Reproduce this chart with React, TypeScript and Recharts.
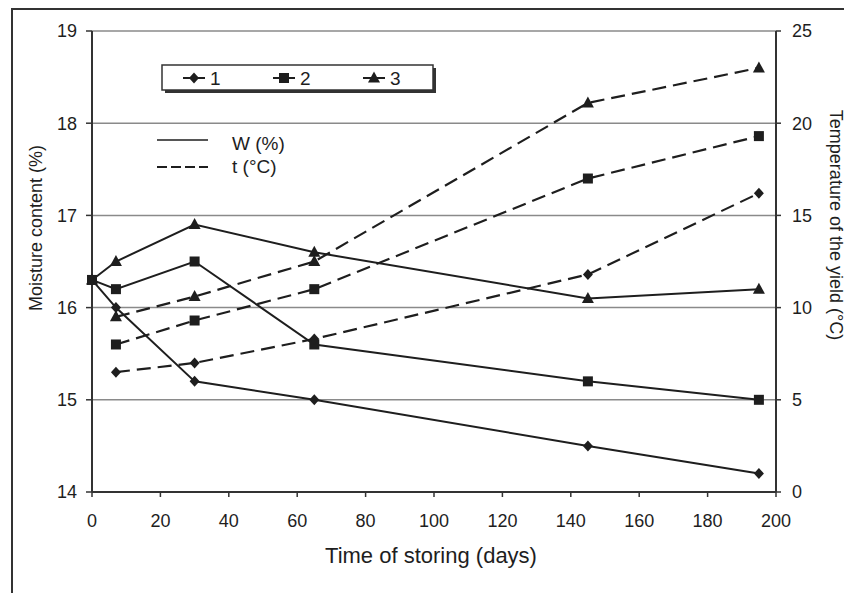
import React from 'react';
import { LineChart, Line, XAxis, YAxis, CartesianGrid, Label } from 'recharts';

const days = [0, 7, 30, 65, 145, 195];
const moisture1 = [16.3, 16.0, 15.2, 15.0, 14.5, 14.2];
const moisture2 = [16.3, 16.2, 16.5, 15.6, 15.2, 15.0];
const moisture3 = [16.3, 16.5, 16.9, 16.6, 16.1, 16.2];
const temp1 = [null, 6.5, 7.0, 8.3, 11.8, 16.2];
const temp2 = [null, 8.0, 9.3, 11.0, 17.0, 19.3];
const temp3 = [null, 9.5, 10.6, 12.5, 21.1, 23.0];

const xTicks = [0, 20, 40, 60, 80, 100, 120, 140, 160, 180, 200];
const wTicks = [14, 15, 16, 17, 18, 19];
const tTicks = [0, 5, 10, 15, 20, 25];
const seriesLabels = ['1', '2', '3'];
const styleLabels = ['W (%)', 't (°C)'];

const xTitle = 'Time of storing (days)';
const wTitle = 'Moisture content (%)';
const tTitle = 'Temperature of the yield (°C)';

const data = days.map((d, i) => ({
  day: d,
  w1: moisture1[i],
  w2: moisture2[i],
  w3: moisture3[i],
  t1: temp1[i],
  t2: temp2[i],
  t3: temp3[i],
}));

const FONT = '"Liberation Sans", Arial, sans-serif';
const INK = '#1e1e1e';

type Shape = 'diamond' | 'square' | 'triangle';
const shapes: Shape[] = ['diamond', 'square', 'triangle'];

function marker(shape: Shape, cx: number, cy: number, key?: string) {
  if (shape === 'diamond') {
    return (
      <path key={key} d={`M${cx},${cy - 5.5}L${cx + 5},${cy}L${cx},${cy + 5.5}L${cx - 5},${cy}Z`} fill={INK} />
    );
  }
  if (shape === 'square') {
    return <rect key={key} x={cx - 5} y={cy - 5} width={10} height={10} fill={INK} />;
  }
  return (
    <path key={key} d={`M${cx},${cy - 6.5}L${cx + 6},${cy + 4.5}L${cx - 6},${cy + 4.5}Z`} fill={INK} />
  );
}

const makeDot = (shape: Shape, prefix: string) => (props: any) => {
  const { cx, cy, index } = props;
  const k = `${prefix}-${index}`;
  if (cx == null || cy == null || Number.isNaN(cx) || Number.isNaN(cy) || props.value == null) {
    return <g key={k} />;
  }
  return marker(shape, cx, cy, k);
};

const W = 844;
const H = 585;

export default function App() {
  return (
    <div style={{ position: 'relative', width: W, height: H, fontFamily: FONT, background: '#fff' }}>
      <LineChart
        width={W}
        height={H}
        data={data}
        margin={{ top: 23, right: 0, bottom: 0, left: 0 }}
        style={{ fontFamily: FONT }}
      >
        <CartesianGrid yAxisId="w" vertical={false} stroke="#8a8a8a" strokeWidth={1.5} />
        <XAxis
          dataKey="day"
          type="number"
          domain={[0, 200]}
          ticks={xTicks}
          height={101}
          tickSize={5}
          tickMargin={17}
          axisLine={{ stroke: '#333', strokeWidth: 2 }}
          tickLine={{ stroke: '#333', strokeWidth: 1.5 }}
          tick={{ fill: INK, fontSize: 18, fontFamily: FONT }}
          interval={0}
        >
          <Label
            content={(p: any) => {
              const vb = p.viewBox || { x: 84, width: 684, y: 484 };
              return (
                <text
                  x={vb.x + vb.width / 2 - 3}
                  y={vb.y + 71}
                  textAnchor="middle"
                  fontSize={22}
                  fill={INK}
                  fontFamily={FONT}
                >
                  {xTitle}
                </text>
              );
            }}
          />
        </XAxis>
        <YAxis
          yAxisId="w"
          orientation="left"
          domain={[14, 19]}
          ticks={wTicks}
          width={84}
          tickSize={6}
          tickMargin={9}
          axisLine={{ stroke: '#333', strokeWidth: 2 }}
          tickLine={{ stroke: '#333', strokeWidth: 1.5 }}
          tick={{ fill: INK, fontSize: 18, fontFamily: FONT }}
          interval={0}
        >
          <Label
            content={(p: any) => {
              const vb = p.viewBox || { x: 0, y: 23, height: 461 };
              const cx = vb.x + 28;
              const cy = 220;
              return (
                <text
                  x={cx}
                  y={cy}
                  textAnchor="middle"
                  dominantBaseline="central"
                  fontSize={18}
                  fill={INK}
                  fontFamily={FONT}
                  transform={`rotate(-90, ${cx}, ${cy})`}
                >
                  {wTitle}
                </text>
              );
            }}
          />
        </YAxis>
        <YAxis
          yAxisId="t"
          orientation="right"
          domain={[0, 25]}
          ticks={tTicks}
          width={76}
          tickSize={5}
          tickMargin={11}
          axisLine={{ stroke: '#333', strokeWidth: 2 }}
          tickLine={{ stroke: '#333', strokeWidth: 1.5 }}
          tick={{ fill: INK, fontSize: 18, fontFamily: FONT }}
          interval={0}
        >
          <Label
            content={(p: any) => {
              const vb = p.viewBox || { x: 768 };
              const cx = vb.x + 60;
              const cy = 217;
              return (
                <text
                  x={cx}
                  y={cy}
                  textAnchor="middle"
                  dominantBaseline="central"
                  fontSize={18}
                  fill={INK}
                  fontFamily={FONT}
                  transform={`rotate(90, ${cx}, ${cy})`}
                >
                  {tTitle}
                </text>
              );
            }}
          />
        </YAxis>

        {(['w1', 'w2', 'w3'] as const).map((k, i) => (
          <Line
            key={k}
            yAxisId="w"
            dataKey={k}
            type="linear"
            stroke={INK}
            strokeWidth={2}
            dot={makeDot(shapes[i], k)}
            activeDot={false}
            isAnimationActive={false}
          />
        ))}
        {(['t1', 't2', 't3'] as const).map((k, i) => (
          <Line
            key={k}
            yAxisId="t"
            dataKey={k}
            type="linear"
            stroke={INK}
            strokeWidth={2.2}
            strokeDasharray="14 7"
            dot={makeDot(shapes[i], k)}
            activeDot={false}
            isAnimationActive={false}
          />
        ))}
      </LineChart>

      {/* outer frame */}
      <div
        style={{
          position: 'absolute',
          left: 3,
          top: 0,
          width: 900,
          height: 700,
          borderLeft: '2px solid #333',
          borderTop: '2px solid #333',
          pointerEvents: 'none',
        }}
      />

      {/* legends */}
      <svg
        width={W}
        height={H}
        style={{ position: 'absolute', left: 0, top: 0, pointerEvents: 'none' }}
      >
        <rect x={157} y={60} width={271} height={25} fill="#333" />
        <rect x={154} y={57} width={271} height={25} fill="#fff" stroke="#333" strokeWidth={1.5} />
        {seriesLabels.map((lab, i) => {
          const x0 = 154 + 21 + i * 90;
          const cy = 70;
          return (
            <g key={lab}>
              <line x1={x0} x2={x0 + 22} y1={cy} y2={cy} stroke={INK} strokeWidth={2} />
              {marker(shapes[i], x0 + 11, cy)}
              <text x={x0 + 27} y={cy + 7} fontSize={19} fill={INK} fontFamily={FONT}>
                {lab}
              </text>
            </g>
          );
        })}
        <line x1={149} x2={200} y1={132} y2={132} stroke={INK} strokeWidth={1.5} />
        <text x={224} y={142} fontSize={19} fill={INK} fontFamily={FONT}>
          {styleLabels[0]}
        </text>
        <line x1={149} x2={200} y1={159} y2={159} stroke={INK} strokeWidth={2} strokeDasharray="10 4" />
        <text x={224} y={165} fontSize={19} fill={INK} fontFamily={FONT}>
          {styleLabels[1]}
        </text>
      </svg>
    </div>
  );
}
